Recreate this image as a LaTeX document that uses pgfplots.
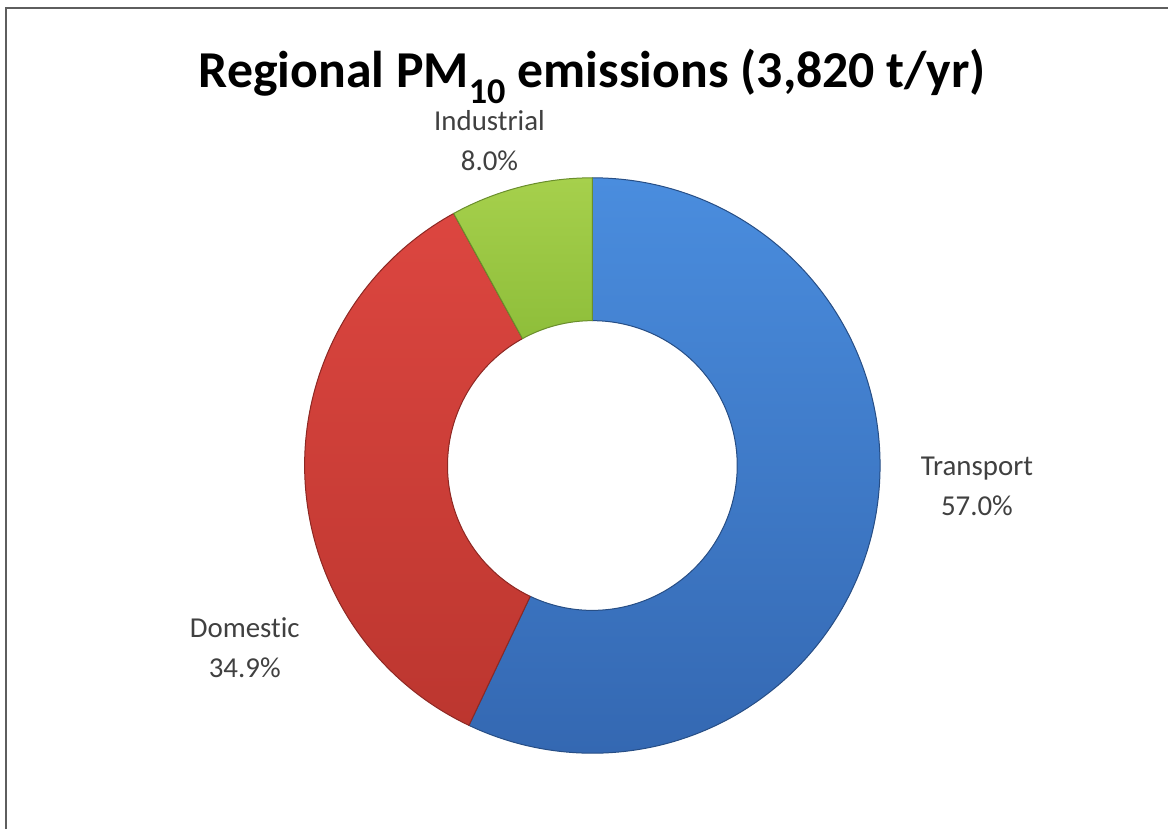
\documentclass[border=0pt]{standalone}
\usepackage{pgfplots}
\pgfplotsset{compat=1.18}
\usepackage{pgfplotstable}
\usepackage{fontspec}
\setmainfont{Carlito}[Ligatures={NoCommon}]
\definecolor{bluetop}{HTML}{4A8DDE}
\definecolor{bluebot}{HTML}{3468B2}
\definecolor{redtop}{HTML}{DC4640}
\definecolor{redbot}{HTML}{BC362F}
\definecolor{greentop}{HTML}{A6D04C}
\definecolor{greenbot}{HTML}{8EBE3A}
\definecolor{labelgray}{HTML}{404040}
\definecolor{framegray}{HTML}{5E5E5E}

\pgfplotstableread{
label value
Transport 57.0
Domestic 34.9
Industrial 8.0
}\piedata

\pgfplotstablegetelem{0}{value}\of\piedata \let\vA\pgfplotsretval
\pgfplotstablegetelem{1}{value}\of\piedata \let\vB\pgfplotsretval
\pgfplotstablegetelem{2}{value}\of\piedata \let\vC\pgfplotsretval
\pgfmathsetmacro{\vSum}{\vA+\vB+\vC}
\pgfmathsetmacro{\aA}{90}
\pgfmathsetmacro{\aB}{90-\vA/\vSum*360}
\pgfmathsetmacro{\aC}{\aB-\vB/\vSum*360}
\pgfmathsetmacro{\aD}{-270}
\pgfmathsetmacro{\aBi}{\aB+180}
\pgfmathsetmacro{\aCi}{\aC+180}
\pgfmathsetmacro{\aDi}{\aD+180}

\newcommand{\donutwedge}[5]{% start, end, end+180, topcolor, botcolor
  \shade[top color=#4, bottom color=#5, draw=#5!75!black, line width=1bp, line join=round]
    ([shift={(#1:288bp)}]axis cs:593,466)
    arc[start angle=#1, end angle=#2, radius=288bp]
    -- ++(#3:143bp)
    arc[start angle=#2, end angle=#1, radius=145bp] -- cycle;}

\begin{document}
\begin{tikzpicture}
\begin{axis}[
  scale only axis, width=1169bp, height=830bp,
  xmin=0, xmax=1169, ymin=0, ymax=830, y dir=reverse,
  hide axis, clip=false]
  \path (axis cs:0,0) rectangle (axis cs:1169,830);
  \draw[framegray, line width=2.5bp] (axis cs:6,830) -- (axis cs:6,8) -- (axis cs:1169,8);
  \donutwedge{\aA}{\aB}{\aBi}{bluetop}{bluebot}
  \donutwedge{\aB}{\aC}{\aCi}{redtop}{redbot}
  \donutwedge{\aC}{\aD}{\aDi}{greentop}{greenbot}
  \node[font=\fontsize{52}{60}\selectfont\bfseries, anchor=base] at (axis cs:593,88)
    {Regional PM\textsubscript{10} emissions (3,820 t/yr)};
  \node[font=\fontsize{29}{40}\selectfont, text=labelgray, align=center] at (axis cs:490,141)
    {Industrial\\8.0\%};
  \node[font=\fontsize{29}{40}\selectfont, text=labelgray, align=center] at (axis cs:978,487)
    {Transport\\57.0\%};
  \node[font=\fontsize{29}{40}\selectfont, text=labelgray, align=center] at (axis cs:245,648)
    {Domestic\\34.9\%};
\end{axis}
\end{tikzpicture}
\end{document}
